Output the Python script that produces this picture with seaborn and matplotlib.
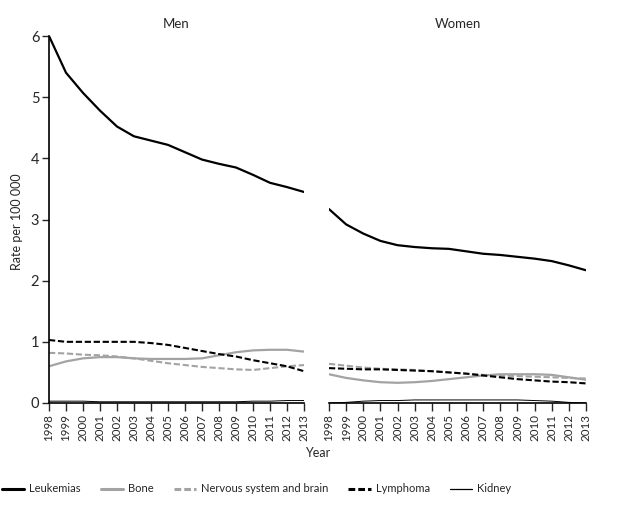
import matplotlib
matplotlib.use("Agg")
import matplotlib.pyplot as plt
from matplotlib.lines import Line2D
import seaborn as sns
import pandas as pd

years = list(range(1998, 2014))
series_names = ["Leukemias", "Bone", "Nervous system and brain", "Lymphoma", "Kidney"]

men_leukemias = [6.0, 5.4, 5.07, 4.78, 4.52, 4.36, 4.29, 4.22, 4.1, 3.98, 3.91, 3.85, 3.73, 3.6, 3.53, 3.45]
men_bone = [0.6, 0.68, 0.73, 0.75, 0.75, 0.73, 0.72, 0.72, 0.72, 0.73, 0.78, 0.83, 0.86, 0.87, 0.87, 0.84]
men_nervous = [0.82, 0.81, 0.79, 0.78, 0.76, 0.73, 0.69, 0.65, 0.62, 0.59, 0.57, 0.55, 0.54, 0.57, 0.6, 0.62]
men_lymphoma = [1.03, 1.0, 1.0, 1.0, 1.0, 1.0, 0.98, 0.95, 0.9, 0.85, 0.8, 0.76, 0.7, 0.65, 0.6, 0.52]
men_kidney = [0.03, 0.03, 0.03, 0.02, 0.02, 0.02, 0.02, 0.02, 0.02, 0.02, 0.02, 0.02, 0.03, 0.03, 0.04, 0.04]

women_leukemias = [3.17, 2.92, 2.77, 2.65, 2.58, 2.55, 2.53, 2.52, 2.48, 2.44, 2.42, 2.39, 2.36, 2.32, 2.25, 2.17]
women_bone = [0.47, 0.41, 0.37, 0.34, 0.33, 0.34, 0.36, 0.39, 0.42, 0.45, 0.47, 0.47, 0.47, 0.46, 0.42, 0.38]
women_nervous = [0.64, 0.61, 0.58, 0.56, 0.55, 0.54, 0.52, 0.5, 0.48, 0.46, 0.45, 0.44, 0.43, 0.42, 0.41, 0.40]
women_lymphoma = [0.57, 0.56, 0.55, 0.55, 0.54, 0.53, 0.52, 0.5, 0.48, 0.45, 0.42, 0.39, 0.37, 0.35, 0.34, 0.32]
women_kidney = [0.0, 0.01, 0.03, 0.04, 0.04, 0.05, 0.05, 0.05, 0.05, 0.05, 0.05, 0.05, 0.04, 0.03, 0.01, 0.0]

panels = {
    "Men": [men_leukemias, men_bone, men_nervous, men_lymphoma, men_kidney],
    "Women": [women_leukemias, women_bone, women_nervous, women_lymphoma, women_kidney],
}

sns.set_style("white")
plt.rcParams["font.family"] = ["Lato", "DejaVu Sans"]

GREY = "#a3a3a3"
palette = {"Leukemias": "black", "Bone": GREY, "Nervous system and brain": GREY,
           "Lymphoma": "black", "Kidney": "black"}
dashes = {"Leukemias": "", "Bone": "", "Nervous system and brain": (3, 1.3),
          "Lymphoma": (3, 1.3), "Kidney": ""}
sizes = {"Leukemias": 1.6, "Bone": 1.6, "Nervous system and brain": 1.5,
         "Lymphoma": 1.5, "Kidney": 0.7}

fig = plt.figure(figsize=(6.21, 5.09), dpi=100)
axes = [fig.add_axes([49/621, 1-403/509, 255/621, 367/509]),
        fig.add_axes([329/621, 1-403/509, 257/621, 367/509])]

for ax, (title, vals) in zip(axes, panels.items()):
    rows = []
    for name, v in zip(series_names, vals):
        for y, r in zip(years, v):
            rows.append({"Year": y, "Rate": r, "Type": name})
    df = pd.DataFrame(rows)
    sns.lineplot(data=df, x="Year", y="Rate", hue="Type", style="Type", size="Type",
                 palette=palette, dashes=dashes, sizes=sizes, legend=False, ax=ax,
                 hue_order=series_names, style_order=series_names, size_order=series_names)
    ax.set_xlim(1998, 2013)
    ax.set_ylim(0, 6)
    ax.set_xticks(years)
    ax.set_xticklabels([str(y) for y in years], rotation=90, fontsize=8.3)
    ax.set_xlabel("")
    ax.set_ylabel("")
    ax.set_title(title, fontsize=9.5, pad=6)
    ax.spines["top"].set_visible(False)
    ax.spines["right"].set_visible(False)
    ax.tick_params(axis="x", direction="out", length=6, width=1, bottom=True, pad=2)
    for s in ["left", "bottom"]:
        ax.spines[s].set_linewidth(1.2)
        ax.spines[s].set_color("black")

axes[0].set_yticks(range(0, 7))
axes[0].set_yticklabels([str(i) for i in range(0, 7)], fontsize=10.5)
axes[0].tick_params(axis="y", direction="out", length=5, width=1, left=True, pad=2)
axes[1].spines["left"].set_visible(False)
axes[1].set_yticks([])

fig.text(17/621, 1-222/509, "Rate per 100 000", rotation=90, ha="center", va="center",
         fontsize=9)
fig.text(318/621, 1-453/509, "Year", ha="center", va="center", fontsize=9)

handles = []
for n in series_names:
    kw = dict(color=palette[n], lw=2.2 if n != "Kidney" else 0.9)
    if dashes[n]:
        kw["dashes"] = (2.2, 1)
    handles.append(Line2D([], [], **kw))
fig.legend(handles, series_names, loc="center left", bbox_to_anchor=(0.0, 1-489/509),
           ncol=5, frameon=False, fontsize=8.0, handlelength=2.0, columnspacing=1.8,
           handletextpad=0.45, borderaxespad=0, borderpad=0.2)

fig.savefig("out.png", dpi=100)
